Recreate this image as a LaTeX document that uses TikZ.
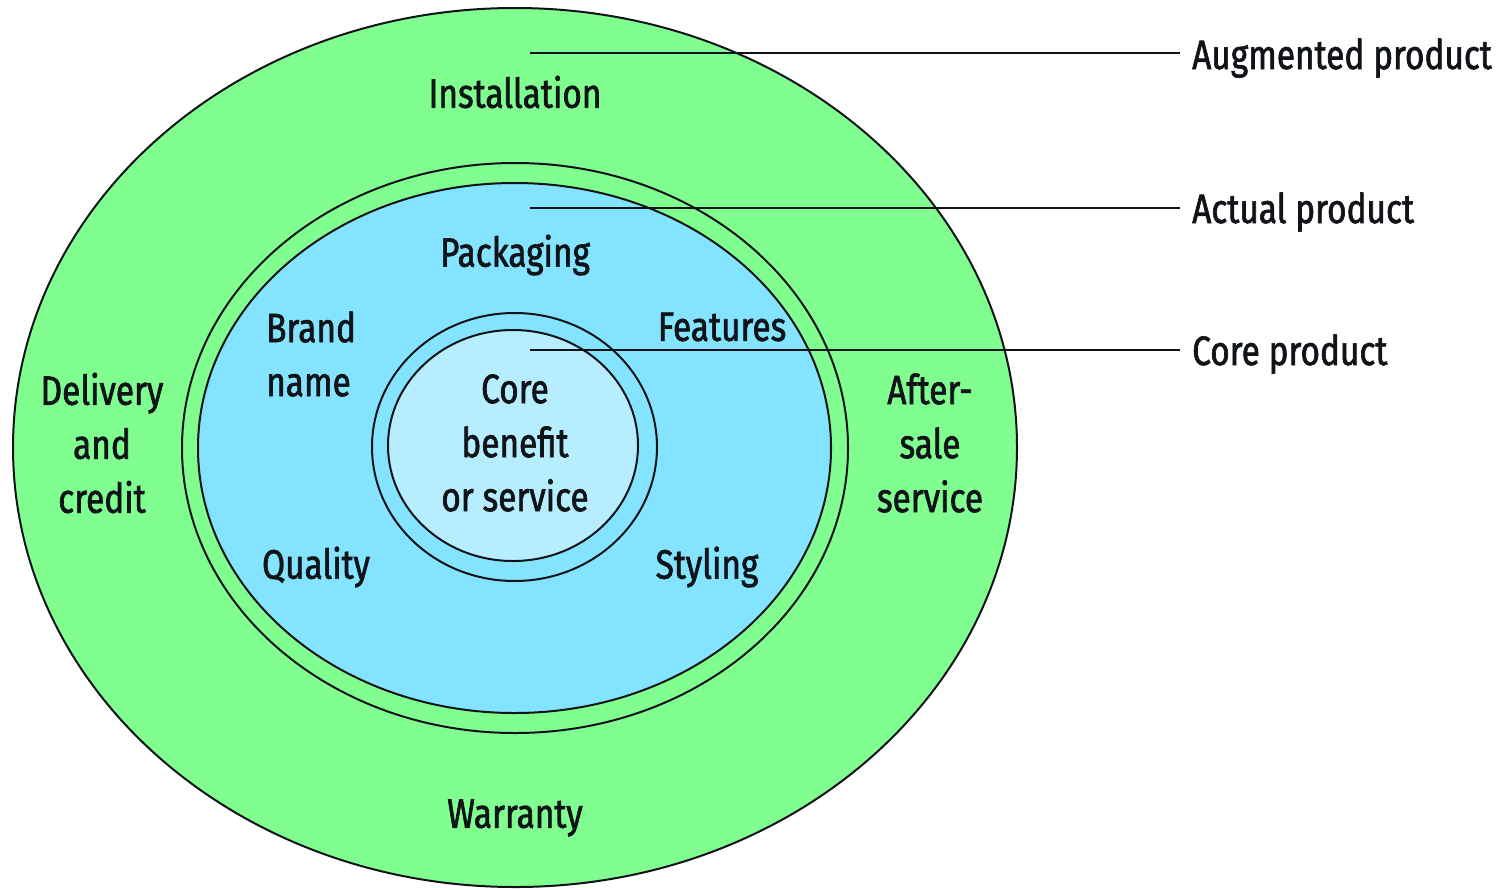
\documentclass[tikz,border=0pt]{standalone}
\usepackage{fontspec}
\setmainfont{Fira Sans}[FakeStretch=0.815, FakeBold=1.6]
\definecolor{augGreen}{RGB}{128,255,144}
\definecolor{actBlue}{RGB}{132,228,255}
\definecolor{coreLight}{RGB}{183,238,255}
\definecolor{ink}{RGB}{16,20,24}
\begin{document}
\begin{tikzpicture}[x=1pt,y=-1pt,
  ring/.style={draw=ink, line width=2pt},
  lbl/.style={text=ink, font=\fontsize{41}{54}\selectfont, align=center, inner sep=0pt},
  side/.style={text=ink, font=\fontsize{41}{54}\selectfont, anchor=west, inner sep=0pt},
  leader/.style={draw=ink, line width=2.5pt}]
\useasboundingbox (0,0) rectangle (1503,889);
% layers
\fill[augGreen, ring] (515,447.5) ellipse [x radius=502pt, y radius=439.5pt];
\draw[ring] (515,448) ellipse [x radius=333pt, y radius=285pt];
\fill[actBlue, ring] (514.5,448) ellipse [x radius=316.5pt, y radius=265pt];
\draw[ring] (514.5,447) ellipse [x radius=142.5pt, y radius=134pt];
\fill[coreLight, ring] (513,445.5) ellipse [x radius=125pt, y radius=115.5pt];
% texts
\node[lbl] (inst) at (515,92) {Installation};
\node[lbl] (pack) at (515,255) {Packaging};
\node[lbl, align=left, anchor=west] (brand) at (266,354) {Brand\\name};
\node[lbl] (feat) at (722,327) {Features};
\node[lbl] (core) at (515,443) {Core\\benefit\\or service};
\node[lbl] (deliv) at (102,443) {Delivery\\and\\credit};
\node[lbl] (after) at (930,443) {After-\\sale\\service};
\node[lbl] (qual) at (316,567) {Quality};
\node[lbl] (styl) at (707,567) {Styling};
\node[lbl] (warr) at (515,818) {Warranty};
% side labels
\node[side] (augL) at (1192,58) {Augmented product};
\node[side] (actL) at (1192,212) {Actual product};
\node[side] (coreL) at (1192,354) {Core product};
% leader origins
\coordinate (augO) at (530,53);
\coordinate (actO) at (530,208);
\coordinate (coreO) at (530,350);
\draw[leader] (augO) -- ([xshift=-12pt]augO -| augL.west);
\draw[leader] (actO) -- ([xshift=-12pt]actO -| actL.west);
\draw[leader] (coreO) -- ([xshift=-12pt]coreO -| coreL.west);
\end{tikzpicture}
\end{document}
